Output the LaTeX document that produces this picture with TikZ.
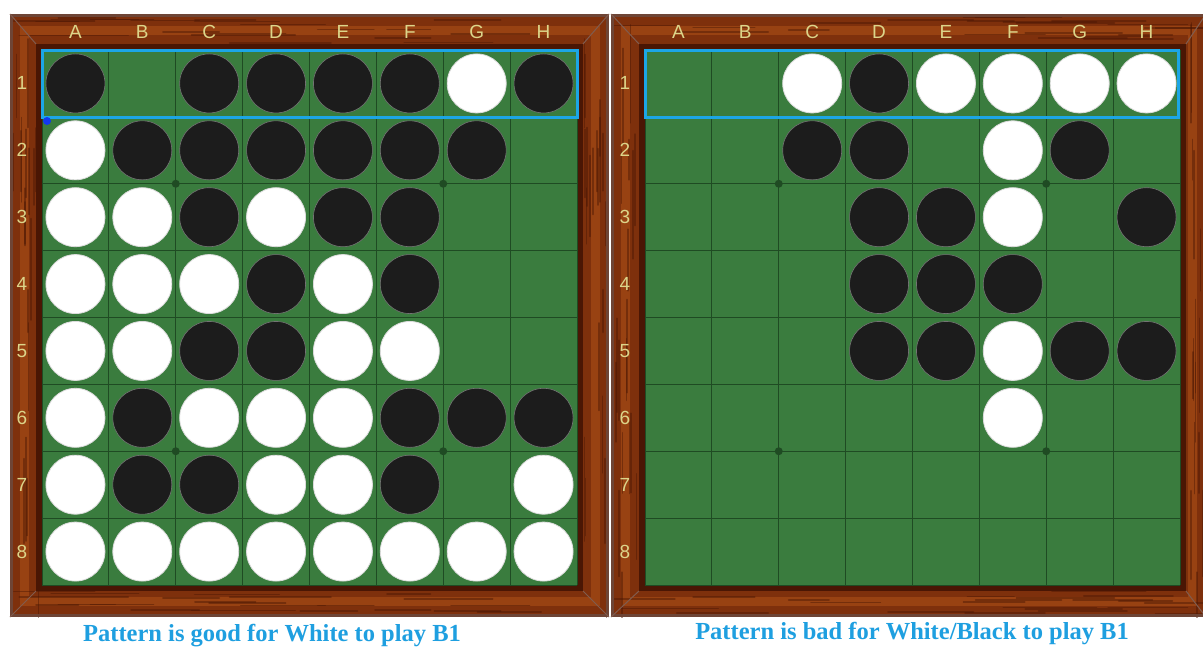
\documentclass[tikz,border=0pt]{standalone}
\usepackage{fontspec}
\setmainfont{Liberation Serif}
\setsansfont{Liberation Sans}
\usepackage{tikz}
\usepackage{xcolor}
\usetikzlibrary{positioning,calc}
\definecolor{otgreen}{HTML}{3A7C3E}
\definecolor{otline}{HTML}{1F4B23}
\definecolor{otwood}{HTML}{7E300C}
\definecolor{otwooddark}{HTML}{4A1604}
\definecolor{otwoodlight}{HTML}{B25418}
\definecolor{otlabel}{HTML}{DCD58A}
\definecolor{otblue}{HTML}{1CA6E6}
\definecolor{otdot}{HTML}{1238EE}
\definecolor{otcaption}{HTML}{1E9FE0}
\definecolor{otblack}{HTML}{1C1C1C}
\tikzset{
  blackStone/.style={circle, minimum size=59pt, inner sep=0pt, fill=otblack, draw=black!55, line width=0.6pt},
  whiteStone/.style={circle, minimum size=59pt, inner sep=0pt, fill=white, draw=black!14, line width=0.8pt},
  boardLabel/.style={font=\sffamily\fontsize{19}{19}\selectfont, text=otlabel, inner sep=0pt},
  captionText/.style={font=\bfseries\fontsize{24.5}{24.5}\selectfont, text=otcaption, inner sep=0pt},
  rowBox/.style={draw=otblue, line width=3pt},
  gridLine/.style={draw=otline, line width=1pt},
  grainLine/.style={draw=otwooddark, opacity=0.45, line width=1.6pt, line cap=round}
}
\begin{document}
\begin{tikzpicture}[x=1pt,y=-1pt]
  \useasboundingbox (0,0) rectangle (1203,648);
  \fill[white] (0,0) rectangle (1203,648);
  \pgfmathsetseed{11}
  \foreach \bd/\fx/\fw/\gx in {L/10/599/42,R/611/595/645}
  {
    \fill[otwood] (\fx,14) rectangle ++(\fw,603);
    \begin{scope}
      \clip (\fx,14) rectangle ++(\fw,603);
      \draw[otwoodlight, opacity=0.5, line width=9pt] ({\fx+14},30) rectangle ({\fx+\fw-14},601);
      \foreach \k in {1,...,22}
      {
        \pgfmathsetmacro\ga{\fx+rnd*\fw}
        \pgfmathsetmacro\gb{16+rnd*28}
        \pgfmathsetmacro\gc{590+rnd*25}
        \pgfmathsetmacro\gd{40+rnd*70}
        \draw[grainLine] (\ga,\gb) -- ++(\gd,0);
        \draw[grainLine] (\ga,\gc) -- ++(\gd,0);
        \pgfmathsetmacro\ha{16+rnd*570}
        \pgfmathsetmacro\hb{\fx+2+rnd*28}
        \pgfmathsetmacro\hc{\gx+537+rnd*(\fx+\fw-\gx-537)}
        \draw[grainLine] (\hb,\ha) -- ++(0,\gd);
        \draw[grainLine] (\hc,\ha) -- ++(0,\gd);
      }
    \end{scope}
    \draw[otwooddark!80, line width=3pt] ({\fx+1.5},15.5) rectangle ({\fx+\fw-1.5},615.5);
    \draw[otwooddark, line width=6pt] ({\gx-3},47) rectangle ({\gx+538},588);
    \draw[otwooddark!70, line width=1pt] (\fx,14) -- ({\gx-6},44);
    \draw[otwooddark!70, line width=1pt] ({\fx+\fw},14) -- ({\gx+541},44);
    \draw[otwooddark!70, line width=1pt] (\fx,617) -- ({\gx-6},591);
    \draw[otwooddark!70, line width=1pt] ({\fx+\fw},617) -- ({\gx+541},591);
    \fill[otgreen] (\gx,50) rectangle ++(535,535);
    \foreach \i in {0,...,8}
    {
      \draw[gridLine] ({\gx+\i*66.875},50) -- ++(0,535);
      \draw[gridLine] (\gx,{50+\i*66.875}) -- ++(535,0);
    }
    \foreach \sx/\sy in {2/2,6/2,2/6,6/6}
      \fill[otline] ({\gx+\sx*66.875},{50+\sy*66.875}) circle (4);
    \foreach \c/\l in {1/A,2/B,3/C,4/D,5/E,6/F,7/G,8/H}
    {
      \node[boardLabel] (\bd-col-\l) at ({\gx+(\c-0.5)*66.875},32) {\l};
      \node[boardLabel] (\bd-row-\c) at ({\gx-20},{50+(\c-0.5)*66.875}) {\c};
    }
  }
  % left board
  \foreach \c/\r in {1/1,3/1,4/1,5/1,6/1,8/1,2/2,3/2,4/2,5/2,6/2,7/2,3/3,5/3,6/3,4/4,6/4,3/5,4/5,2/6,6/6,7/6,8/6,2/7,3/7,6/7}
    \node[blackStone] (L-\c-\r) at ({42+(\c-0.5)*66.875},{50+(\r-0.5)*66.875}) {};
  \foreach \c/\r in {7/1,1/2,1/3,2/3,4/3,1/4,2/4,3/4,5/4,1/5,2/5,5/5,6/5,1/6,3/6,4/6,5/6,1/7,4/7,5/7,8/7,1/8,2/8,3/8,4/8,5/8,6/8,7/8,8/8}
    \node[whiteStone] (L-\c-\r) at ({42+(\c-0.5)*66.875},{50+(\r-0.5)*66.875}) {};
  % right board
  \foreach \c/\r in {4/1,3/2,4/2,7/2,4/3,5/3,8/3,4/4,5/4,6/4,4/5,5/5,7/5,8/5}
    \node[blackStone] (R-\c-\r) at ({645+(\c-0.5)*66.875},{50+(\r-0.5)*66.875}) {};
  \foreach \c/\r in {3/1,5/1,6/1,7/1,8/1,6/2,6/3,6/5,6/6}
    \node[whiteStone] (R-\c-\r) at ({645+(\c-0.5)*66.875},{50+(\r-0.5)*66.875}) {};
  \draw[rowBox] (42,50) rectangle (577,117);
  \draw[rowBox] (645,50) rectangle (1178,117);
  \fill[otdot] (47,121) circle (4);
  \node[captionText] (capL) at (272,636) {Pattern is good for White to play B1};
  \node[captionText] (capR) at (912,634) {Pattern is bad for White/Black to play B1};
\end{tikzpicture}
\end{document}
